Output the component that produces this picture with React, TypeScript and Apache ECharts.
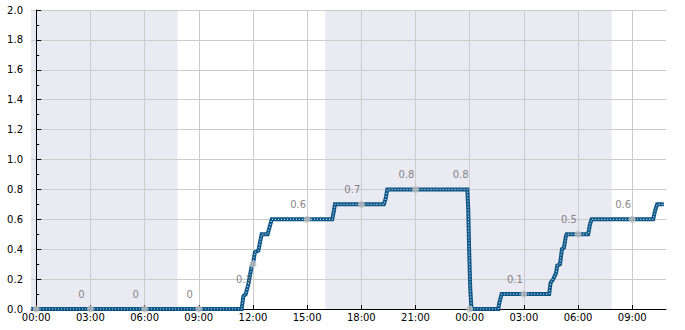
import React, { useEffect, useRef } from "react";
import * as echarts from "echarts";

// Step-like trace (hours since first midnight, value)
const lineHours = [-0.29, 11.37, 11.47, 11.6, 11.74, 11.93, 12.0, 12.11, 12.3, 12.48, 12.81, 13.04, 16.39, 16.47, 16.54, 19.25, 19.35, 19.44, 23.87, 23.92, 23.97, 24.03, 24.1, 25.58, 25.64, 25.77, 28.4, 28.48, 28.63, 28.78, 28.85, 29.0, 29.11, 29.22, 29.33, 29.37, 30.56, 30.65, 30.75, 34.16, 34.27, 34.38, 34.75];
const lineValues = [0, 0, 0.086, 0.1, 0.164, 0.286, 0.3, 0.38, 0.39, 0.5, 0.5, 0.6, 0.6, 0.65, 0.7, 0.7, 0.74, 0.8, 0.8, 0.67, 0.4, 0.14, 0, 0, 0.04, 0.1, 0.1, 0.175, 0.2, 0.24, 0.29, 0.3, 0.4, 0.41, 0.49, 0.5, 0.5, 0.56, 0.6, 0.6, 0.66, 0.7, 0.7];

// Grey markers every 3 hours
const dotHours = [0, 3, 6, 9, 12, 15, 18, 21, 24, 27, 30, 33];
const dotValues = [0, 0, 0, 0, 0.3, 0.6, 0.7, 0.8, 0, 0.1, 0.5, 0.6];

// Value annotations
const labelHours = [2.5, 5.5, 8.5, 11.5, 14.5, 17.5, 20.5, 23.5, 26.5, 29.5, 32.5];
const labelValues = [0, 0, 0, 0.1, 0.6, 0.7, 0.8, 0.8, 0.1, 0.5, 0.6];

// X tick positions (hours)
const tickHours = [0, 3, 6, 9, 12, 15, 18, 21, 24, 27, 30, 33];

// Shaded periods
const bandStarts = [-0.29, 16];
const bandEnds = [7.83, 31.86];

const X_MIN = -0.29;
const X_MAX = 34.87;
const FONT = "DejaVu Sans";

function fmtHour(v: number) {
  const h = ((Math.round(v) % 24) + 24) % 24;
  return (h < 10 ? "0" : "") + h + ":00";
}

export default function App() {
  const ref = useRef<HTMLDivElement>(null);
  useEffect(() => {
    document.body.style.margin = "0";
    const chart = echarts.init(ref.current!, null, { renderer: "svg" });
    const lineData = lineHours.map((h, i) => [h, lineValues[i]]);
    chart.setOption({
      animation: false,
      textStyle: { fontFamily: FONT },
      grid: { left: 31, right: 19, top: 10, bottom: 21 },
      xAxis: {
        type: "value",
        min: X_MIN,
        max: X_MAX,
        z: 2,
        axisLine: { show: true, onZero: false, lineStyle: { color: "#000", width: 1 } },
        axisTick: { show: true, inside: true, length: 4, customValues: tickHours, lineStyle: { color: "#000" } },
        axisLabel: { customValues: tickHours, formatter: (v: number) => fmtHour(v), color: "#000", fontSize: 10, fontFamily: FONT, margin: 3 },
        splitLine: { show: false },
      },
      yAxis: {
        type: "value",
        min: 0,
        max: 2,
        interval: 0.2,
        z: 2,
        axisLine: { show: true, lineStyle: { color: "#000", width: 1 } },
        axisTick: { show: true, inside: true, length: 5, lineStyle: { color: "#000" } },
        minorTick: { show: true, splitNumber: 2, length: 3, lineStyle: { color: "#000" } },
        axisLabel: { formatter: (v: number) => v.toFixed(1), color: "#000", fontSize: 10, fontFamily: FONT, margin: 8 },
        splitLine: { show: true, lineStyle: { color: "#cccccc", width: 1 } },
      },
      series: [
        {
          type: "line",
          data: [],
          z: 0,
          zlevel: 0,
          silent: true,
          markArea: {
            silent: true,
            z: 0,
            itemStyle: { color: "#eaeaf2" },
            data: bandStarts.map((s, i) => [{ xAxis: s }, { xAxis: bandEnds[i] }]),
          },
          markLine: {
            silent: true,
            z: 1,
            symbol: "none",
            label: { show: false },
            lineStyle: { color: "#cccccc", width: 1, type: "solid" },
            data: tickHours.map((h) => ({ xAxis: h })),
          },
        },
        {
          type: "line",
          data: lineData,
          z: 3,
          symbol: "none",
          lineStyle: { color: "#0c5788", width: 4, cap: "butt", join: "miter" },
        },
        {
          type: "line",
          data: lineData,
          z: 4,
          symbol: "none",
          lineStyle: { color: "#ffffff", width: 1, type: [1, 2] },
        },
        {
          type: "scatter",
          data: dotHours.map((h, i) => [h, dotValues[i]]),
          z: 5,
          symbolSize: 7,
          itemStyle: { color: "#c0c0c0" },
        },
        {
          type: "scatter",
          data: labelHours.map((h, i) => [h, labelValues[i]]),
          z: 6,
          symbolSize: 1,
          itemStyle: { color: "rgba(0,0,0,0)" },
          label: {
            show: true,
            position: "top",
            distance: 9,
            color: "#666666",
            fontSize: 10,
            fontFamily: FONT,
            formatter: (p: any) => String(p.value[1]),
          },
        },
      ],
    });
    return () => chart.dispose();
  }, []);
  return <div ref={ref} style={{ width: 685, height: 330 }} />;
}
